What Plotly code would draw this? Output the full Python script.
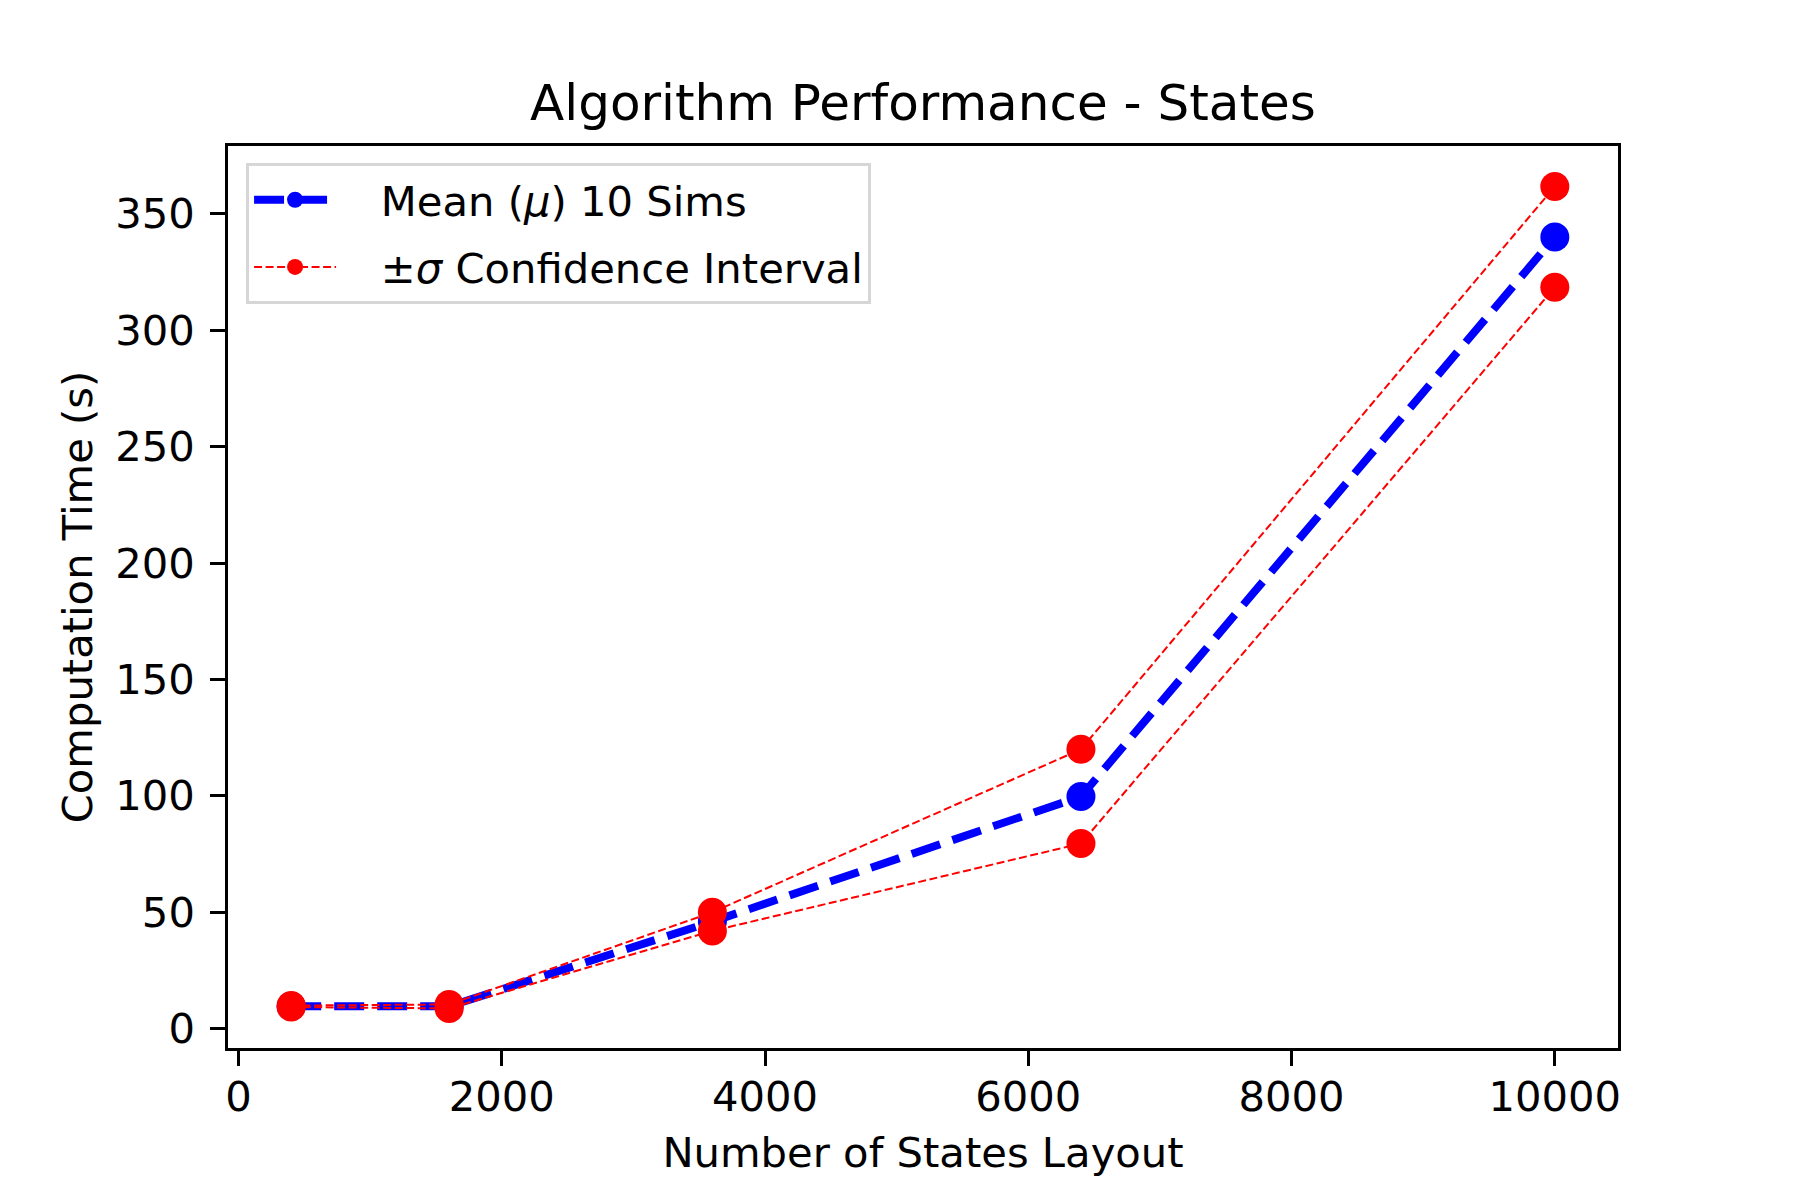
import plotly.graph_objects as go

# number of states in each layout (20x20 ... 100x100)
states = [400, 1600, 3600, 6400, 10000]

# computation time, mean of 10 sims and +/- sigma bounds (s)
mean_time = [9.6, 9.6, 46.0, 99.7, 340.0]
upper_time = [9.9, 10.4, 50.0, 120.0, 361.7]
lower_time = [9.3, 8.7, 42.0, 79.5, 318.4]

title = "Algorithm Performance - States"
x_label = "Number of States Layout"
y_label = "Computation Time (s)"

font = "DejaVu Sans, Verdana, sans-serif"
fs = 41.7  # 10pt @ 300dpi
gap = "\u00a0" * 3  # room between legend handle and text

fig = go.Figure()

fig.add_trace(go.Scatter(
    x=states, y=mean_time, mode="lines+markers",
    name=gap + "Mean (<i>μ</i>) 10 Sims",
    line=dict(color="#0000ff", width=8, dash="30px,13px"),
    marker=dict(color="#0000ff", size=29),
))
fig.add_trace(go.Scatter(
    x=states, y=upper_time, mode="lines+markers",
    name=gap + "±<i>σ</i> Confidence Interval", legendgroup="ci",
    line=dict(color="#ff0000", width=2, dash="8px,3.5px"),
    marker=dict(color="#ff0000", size=29),
))
fig.add_trace(go.Scatter(
    x=states, y=lower_time, mode="lines+markers",
    name="lower", legendgroup="ci", showlegend=False,
    line=dict(color="#ff0000", width=2, dash="8px,3.5px"),
    marker=dict(color="#ff0000", size=29),
))

axis_style = dict(
    showline=True, linecolor="black", linewidth=3.3, mirror=True,
    ticks="outside", ticklen=14.6, tickwidth=3.3, tickcolor="black",
    showgrid=False, zeroline=False,
    tickfont=dict(size=fs, color="black", family=font),
)

fig.update_xaxes(
    range=[-80, 10480], tick0=0, dtick=2000, tickformat="d",
    ticklabelstandoff=-5,
    title=dict(text=x_label, font=dict(size=fs, color="black", family=font), standoff=19),
    **axis_style,
)
fig.update_yaxes(
    range=[-8.3, 379.1], tick0=0, dtick=50,
    ticklabelstandoff=7,
    title=dict(text=y_label, font=dict(size=fs, color="black", family=font), standoff=10),
    **axis_style,
)

fig.update_layout(
    width=1800, height=1200,
    margin=dict(l=220, r=190, t=138, b=160),
    paper_bgcolor="white", plot_bgcolor="white",
    font=dict(family=font, color="black", size=fs),
    title=dict(text=title, x=0.5, xref="paper", xanchor="center",
               y=1 - 94 / 1200, yanchor="middle",
               font=dict(size=50, color="black", family=font)),
    legend=dict(x=0.013, y=0.981, xanchor="left", yanchor="top",
                bgcolor="rgba(255,255,255,0.8)", bordercolor="#d6d6d6", borderwidth=3,
                font=dict(size=fs, color="black", family=font),
                itemwidth=82, tracegroupgap=10),
    showlegend=True,
)

fig.write_html("out.html")
